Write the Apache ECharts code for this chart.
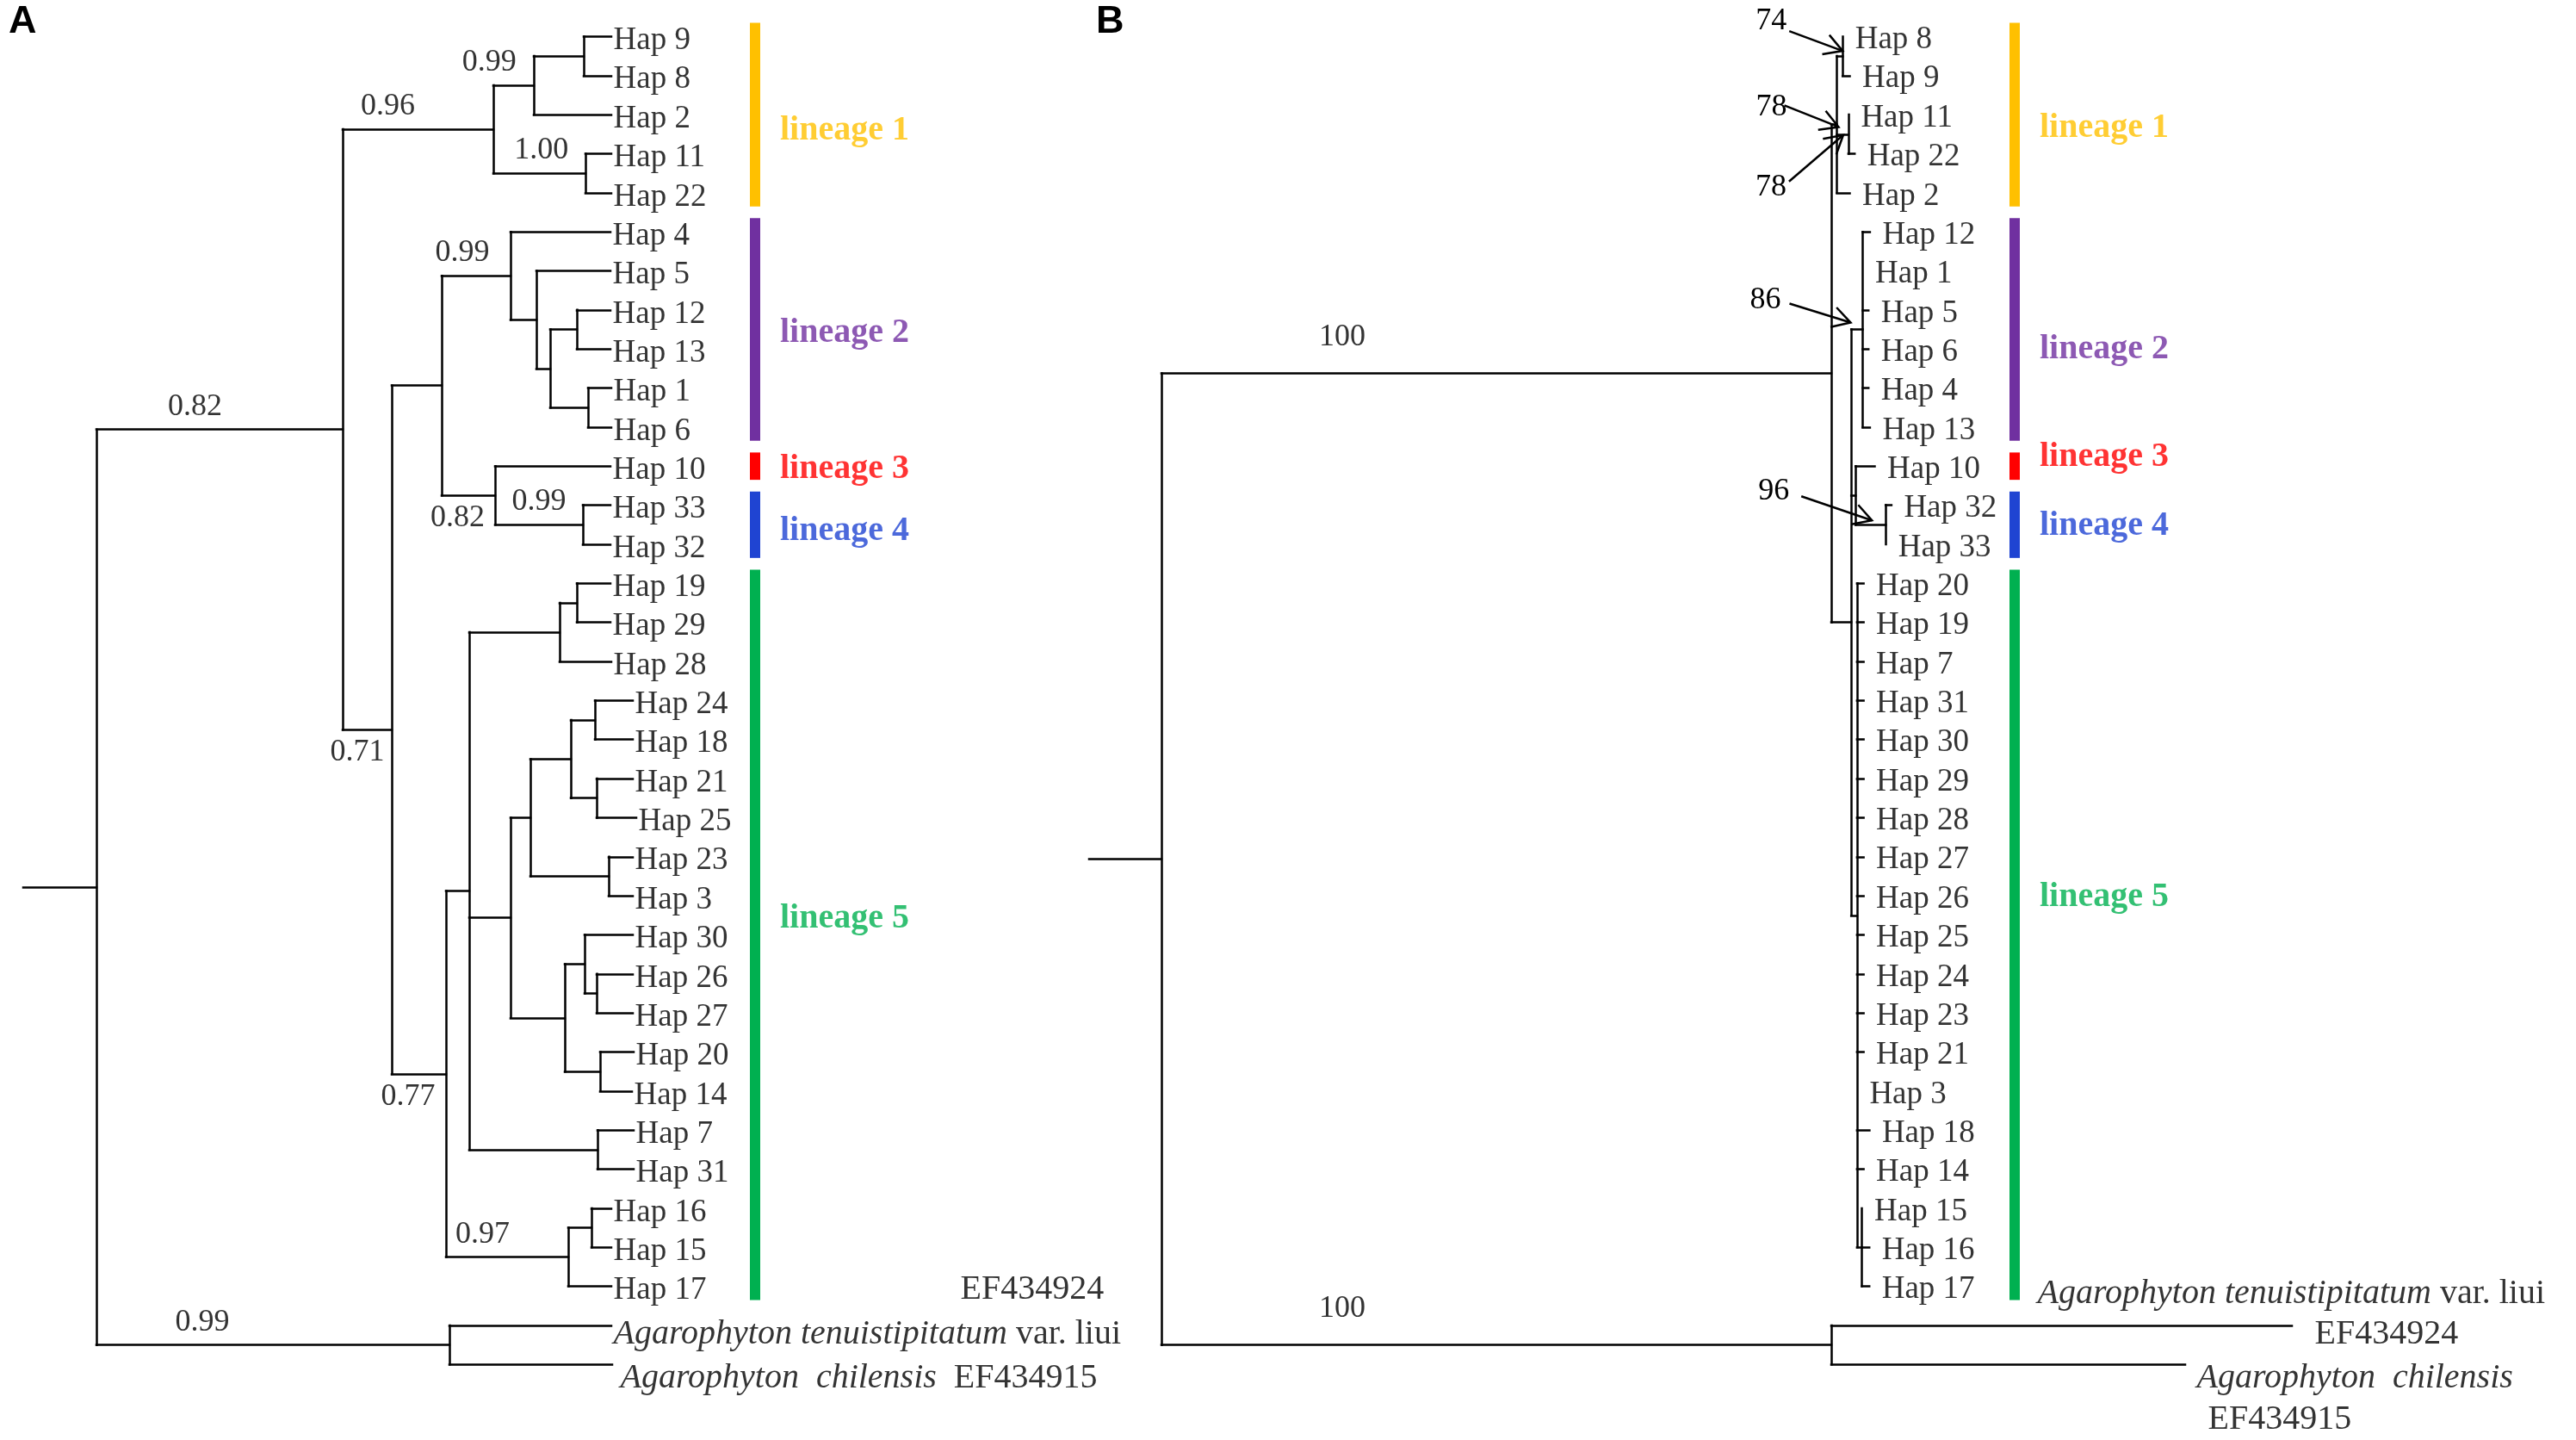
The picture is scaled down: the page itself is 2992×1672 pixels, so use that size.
<!DOCTYPE html>
<html>
<head>
<meta charset="utf-8">
<script src="https://cdn.jsdelivr.net/npm/echarts@6/dist/echarts.min.js"></script>
<style>
  html, body { margin: 0; padding: 0; background: #fff; }
  #chart { width: 2992px; height: 1672px; }
</style>
</head>
<body>
<div id="chart"></div>
<script>
// ---- data -------------------------------------------------------------
// each row: [node, parent, branch length, support]; children keep table order

// A: Bayesian tree, posterior probabilities
const treeA = [
  ['rootA', '', 0.085, ''],
  ['A_ing', 'rootA', 0.286, '0.82'],
  ['A_l1', 'A_ing', 0.175, '0.96'],
  ['A_n98', 'A_l1', 0.047, '0.99'],
  ['A_n9_8', 'A_n98', 0.058, ''],
  ['Hap 9', 'A_n9_8', 0.032, ''],
  ['Hap 8', 'A_n9_8', 0.032, ''],
  ['Hap 2', 'A_n98', 0.090, ''],
  ['A_n11_22', 'A_l1', 0.107, '1.00'],
  ['Hap 11', 'A_n11_22', 0.030, ''],
  ['Hap 22', 'A_n11_22', 0.030, ''],
  ['A_x', 'A_ing', 0.057, '0.71'],
  ['A_l234', 'A_x', 0.058, ''],
  ['A_l2', 'A_l234', 0.080, '0.99'],
  ['Hap 4', 'A_l2', 0.116, ''],
  ['A_n5', 'A_l2', 0.030, ''],
  ['Hap 5', 'A_n5', 0.086, ''],
  ['A_n12_1', 'A_n5', 0.016, ''],
  ['A_n12_13', 'A_n12_1', 0.031, ''],
  ['Hap 12', 'A_n12_13', 0.039, ''],
  ['Hap 13', 'A_n12_13', 0.039, ''],
  ['A_n1_6', 'A_n12_1', 0.044, ''],
  ['Hap 1', 'A_n1_6', 0.027, ''],
  ['Hap 6', 'A_n1_6', 0.027, ''],
  ['A_l34', 'A_l234', 0.062, '0.82'],
  ['Hap 10', 'A_l34', 0.134, ''],
  ['A_l4', 'A_l34', 0.102, '0.99'],
  ['Hap 33', 'A_l4', 0.032, ''],
  ['Hap 32', 'A_l4', 0.032, ''],
  ['A_l5', 'A_x', 0.063, '0.77'],
  ['A_na', 'A_l5', 0.027, ''],
  ['A_c1', 'A_na', 0.105, ''],
  ['A_n19_29', 'A_c1', 0.020, ''],
  ['Hap 19', 'A_n19_29', 0.039, ''],
  ['Hap 29', 'A_n19_29', 0.039, ''],
  ['Hap 28', 'A_c1', 0.060, ''],
  ['A_nb', 'A_na', 0.048, ''],
  ['A_nd', 'A_nb', 0.023, ''],
  ['A_nf', 'A_nd', 0.047, ''],
  ['A_n24_18', 'A_nf', 0.028, ''],
  ['Hap 24', 'A_n24_18', 0.044, ''],
  ['Hap 18', 'A_n24_18', 0.044, ''],
  ['A_n21_25', 'A_nf', 0.030, ''],
  ['Hap 21', 'A_n21_25', 0.042, ''],
  ['Hap 25', 'A_n21_25', 0.046, ''],
  ['A_n23_3', 'A_nd', 0.091, ''],
  ['Hap 23', 'A_n23_3', 0.028, ''],
  ['Hap 3', 'A_n23_3', 0.028, ''],
  ['A_ne', 'A_nb', 0.063, ''],
  ['A_ng', 'A_ne', 0.023, ''],
  ['Hap 30', 'A_ng', 0.056, ''],
  ['A_n26_27', 'A_ng', 0.014, ''],
  ['Hap 26', 'A_n26_27', 0.042, ''],
  ['Hap 27', 'A_n26_27', 0.042, ''],
  ['A_n20_14', 'A_ne', 0.041, ''],
  ['Hap 20', 'A_n20_14', 0.039, ''],
  ['Hap 14', 'A_n20_14', 0.037, ''],
  ['A_n7_31', 'A_na', 0.149, ''],
  ['Hap 7', 'A_n7_31', 0.042, ''],
  ['Hap 31', 'A_n7_31', 0.042, ''],
  ['A_n16_17', 'A_l5', 0.142, '0.97'],
  ['A_n16_15', 'A_n16_17', 0.027, ''],
  ['Hap 16', 'A_n16_15', 0.023, ''],
  ['Hap 15', 'A_n16_15', 0.023, ''],
  ['Hap 17', 'A_n16_17', 0.050, ''],
  ['A_out', 'rootA', 0.410, '0.99'],
  ['Agarophyton tenuistipitatum var. liui', 'A_out', 0.188, ''],
  ['Agarophyton chilensis', 'A_out', 0.189, '']
];

// B: ML tree, bootstrap values
const treeB = [
  ['rootB', '', 0.084, ''],
  ['B_ing', 'rootB', 0.778, '100'],
  ['B_l1', 'B_ing', 0.0065, '78'],
  ['B_n8_9', 'B_l1', 0.0067, '74'],
  ['Hap 8', 'B_n8_9', 0, ''],
  ['Hap 9', 'B_n8_9', 0.0083, ''],
  ['B_n11_22', 'B_l1', 0.0134, '78'],
  ['Hap 11', 'B_n11_22', 0, ''],
  ['Hap 22', 'B_n11_22', 0.0073, ''],
  ['Hap 2', 'B_l1', 0.015, ''],
  ['B_m', 'B_ing', 0.0232, ''],
  ['B_l2', 'B_m', 0.0133, '86'],
  ['Hap 12', 'B_l2', 0.0084, ''],
  ['Hap 1', 'B_l2', 0, ''],
  ['Hap 5', 'B_l2', 0.0067, ''],
  ['Hap 6', 'B_l2', 0.0067, ''],
  ['Hap 4', 'B_l2', 0.0067, ''],
  ['Hap 13', 'B_l2', 0.0084, ''],
  ['B_l34', 'B_m', 0.005, ''],
  ['Hap 10', 'B_l34', 0.0223, ''],
  ['B_l4', 'B_l34', 0.035, '96'],
  ['Hap 32', 'B_l4', 0.0067, ''],
  ['Hap 33', 'B_l4', 0, ''],
  ['B_l5', 'B_m', 0.0067, ''],
  ['Hap 20', 'B_l5', 0.0077, ''],
  ['Hap 19', 'B_l5', 0.0077, ''],
  ['Hap 7', 'B_l5', 0.0077, ''],
  ['Hap 31', 'B_l5', 0.0077, ''],
  ['Hap 30', 'B_l5', 0.0077, ''],
  ['Hap 29', 'B_l5', 0.0077, ''],
  ['Hap 28', 'B_l5', 0.0077, ''],
  ['Hap 27', 'B_l5', 0.0077, ''],
  ['Hap 26', 'B_l5', 0.0077, ''],
  ['Hap 25', 'B_l5', 0.0077, ''],
  ['Hap 24', 'B_l5', 0.0077, ''],
  ['Hap 23', 'B_l5', 0.0077, ''],
  ['Hap 21', 'B_l5', 0.0077, ''],
  ['Hap 3', 'B_l5', 0, ''],
  ['Hap 18', 'B_l5', 0.0145, ''],
  ['Hap 14', 'B_l5', 0.0077, ''],
  ['B_n15_17', 'B_l5', 0.0057, ''],
  ['Hap 15', 'B_n15_17', 0, ''],
  ['Hap 16', 'B_n15_17', 0.0086, ''],
  ['Hap 17', 'B_n15_17', 0.0086, ''],
  ['B_out', 'rootB', 0.778, '100'],
  ['Agarophyton tenuistipitatum var. liui', 'B_out', 0.535, ''],
  ['Agarophyton chilensis', 'B_out', 0.411, '']
];

const lineageNames = ['lineage 1', 'lineage 2', 'lineage 3', 'lineage 4', 'lineage 5'];
// first and last haplotype covered by each lineage bar
const lineageSpanA = [['Hap 9', 'Hap 22'], ['Hap 4', 'Hap 6'], ['Hap 10', 'Hap 10'], ['Hap 33', 'Hap 32'], ['Hap 19', 'Hap 17']];
const lineageSpanB = [['Hap 8', 'Hap 2'], ['Hap 12', 'Hap 13'], ['Hap 10', 'Hap 10'], ['Hap 32', 'Hap 33'], ['Hap 20', 'Hap 17']];
const outgroupTaxa = ['Agarophyton tenuistipitatum var. liui', 'Agarophyton chilensis'];
const outgroupAccessions = ['EF434924', 'EF434915'];

// ---- styles -------------------------------------------------------------
const SERIF = 'Liberation Serif';
const lineageColors = ['#FFC000', '#7030A0', '#FF0000', '#1F44D2', '#00B050'];
const panelStyle = [
  { letter: 'A', left: 27, letterLeft: 10, barX: 0.8495, tipGap: 2, tipDy: 5, supFrac: 0.3, supDist: 8,
    below: ['A_x', 'A_l34', 'A_l5'], fracAt: { A_ing: 0.4, A_n11_22: 0.52, A_l4: 0.5, A_n98: -0.1 },
    lineageDy: [19, 4, 3, 7, -19] },
  { letter: 'B', left: 1265, letterLeft: 1273, barX: 1.0745, tipGap: 14, tipDy: 4, supFrac: 0.27, supDist: 24,
    below: [], fracAt: {}, lineageDy: [16, 23, -11, 1, -44] }
];
// caption placement of the outgroup taxa (pixel offsets from branch tip)
const outgroupLayout = [
  [{ name: [2, 11], acc: [405, -41] }, { name: [9, 16], acc: null }],
  [{ name: [-296, -36], acc: [26, 11] }, { name: [13, 16], acc: [26, 64] }]
];
// bootstrap labels in B that point at their node with an arrow
const arrowLayoutB = {
  B_n8_9:   { text: [-83, -41], from: [-62, -29], to: [0, -6] },
  B_l1:     { text: [-76, -20], from: [-61, -22], to: [2, 3] },
  B_n11_22: { text: [-90, 62],  from: [-69, 55],  to: [-6, 1] },
  B_l2:     { text: [-113, -34], from: [-85, -30], to: [-14, -8] },
  B_l4:     { text: [-130, -39], from: [-98, -33], to: [-16, -5] }
};

// ---- layout -------------------------------------------------------------
function layoutTree(table) {
  const byId = {};
  const nodes = [];
  table.forEach(([id, parent, len, support]) => {
    const n = { id, parent, len, support, children: [] };
    byId[id] = n;
    nodes.push(n);
    if (parent) byId[parent].children.push(n);
  });
  let row = 0;
  (function place(n, x0) {
    n.x0 = x0;
    n.x = x0 + n.len;
    if (!n.children.length) { n.y = row++; return; }
    n.children.forEach(c => place(c, n.x));
    n.y = (n.children[0].y + n.children[n.children.length - 1].y) / 2;
  })(nodes[0], 0);
  return { nodes, byId };
}

function taxonRich(name, acc) {
  const parts = name.split(' var. ');
  let s = '{i|' + parts[0].replace(' ', parts[1] ? ' ' : '  ') + '}';
  if (parts[1]) s += ' var. ' + parts[1];
  if (acc) s += '  ' + acc;
  return s;
}

const chart = echarts.init(document.getElementById('chart'));
const series = [];

[treeA, treeB].forEach((tree, k) => {
  const st = panelStyle[k];
  const { nodes, byId } = layoutTree(tree);
  const spans = k === 0 ? lineageSpanA : lineageSpanB;

  // branches
  const segs = [];
  nodes.forEach(n => {
    if (n.len > 0) segs.push({ coords: [[n.x0, n.y], [n.x, n.y]] });
    if (n.children.length > 1) {
      segs.push({ coords: [[n.x, n.children[0].y], [n.x, n.children[n.children.length - 1].y]] });
    }
  });
  series.push({
    type: 'lines', coordinateSystem: 'cartesian2d', xAxisIndex: k, yAxisIndex: k,
    silent: true, data: segs,
    lineStyle: { color: '#000', width: 2.5, opacity: 1, curveness: 0, cap: 'square' }
  });

  // haplotype labels
  const tips = nodes.filter(n => !n.children.length && n.id.startsWith('Hap'));
  series.push({
    type: 'scatter', xAxisIndex: k, yAxisIndex: k, silent: true, symbolSize: 1,
    itemStyle: { color: 'rgba(0,0,0,0)' },
    data: tips.map(n => ({ name: n.id, value: [n.x, n.y] })),
    label: {
      show: true, position: 'right', distance: st.tipGap, offset: [0, st.tipDy],
      formatter: '{b}', color: '#000', fontFamily: SERIF, fontSize: 37
    }
  });

  // outgroup captions
  const ogData = [];
  outgroupTaxa.forEach((name, j) => {
    const n = byId[name];
    const lay = outgroupLayout[k][j];
    ogData.push({
      name: taxonRich(name, lay.acc ? '' : outgroupAccessions[j]), value: [n.x, n.y],
      label: { offset: lay.name }
    });
    if (lay.acc) {
      ogData.push({ name: outgroupAccessions[j], value: [n.x, n.y], label: { offset: lay.acc } });
    }
  });
  series.push({
    type: 'scatter', xAxisIndex: k, yAxisIndex: k, silent: true, symbolSize: 1,
    itemStyle: { color: 'rgba(0,0,0,0)' },
    data: ogData,
    label: {
      show: true, position: 'right', distance: 0, formatter: '{b}',
      color: '#000', fontFamily: SERIF, fontSize: 40,
      rich: { i: { fontStyle: 'italic', fontFamily: SERIF, fontSize: 40, color: '#000' } }
    }
  });

  // support values written on the branch
  const sup = nodes.filter(n => n.support && !(k === 1 && arrowLayoutB[n.id]));
  series.push({
    type: 'scatter', xAxisIndex: k, yAxisIndex: k, silent: true, symbolSize: 1,
    itemStyle: { color: 'rgba(0,0,0,0)' },
    data: sup.map(n => {
      const f = n.id in st.fracAt ? st.fracAt[n.id] : st.supFrac;
      return {
        name: n.support,
        value: [n.x0 + f * (n.x - n.x0), n.y],
        label: { position: st.below.includes(n.id) ? 'bottom' : 'top' }
      };
    }),
    label: {
      show: true, distance: st.supDist, formatter: '{b}',
      color: '#000', fontFamily: SERIF, fontSize: 36
    }
  });

  // support values with arrows (panel B)
  if (k === 1) {
    const arrowNodes = nodes.filter(n => n.support && arrowLayoutB[n.id]);
    series.push({
      type: 'custom', coordinateSystem: 'cartesian2d', xAxisIndex: k, yAxisIndex: k, silent: true,
      data: arrowNodes.map(n => [n.x, n.y]),
      renderItem: (params, api) => {
        const n = arrowNodes[params.dataIndex];
        const L = arrowLayoutB[n.id];
        const p = api.coord([api.value(0), api.value(1)]);
        const a = [p[0] + L.from[0], p[1] + L.from[1]];
        const b = [p[0] + L.to[0], p[1] + L.to[1]];
        const ang = Math.atan2(b[1] - a[1], b[0] - a[0]);
        const arm = s => [b[0] - 24 * Math.cos(ang + s), b[1] - 24 * Math.sin(ang + s)];
        return {
          type: 'group',
          children: [
            { type: 'text', style: {
                text: n.support, x: p[0] + L.text[0], y: p[1] + L.text[1],
                align: 'center', verticalAlign: 'middle',
                fontFamily: SERIF, fontSize: 36, fill: '#000' } },
            { type: 'line', shape: { x1: a[0], y1: a[1], x2: b[0], y2: b[1] },
              style: { stroke: '#000', lineWidth: 2.5 } },
            { type: 'polyline', shape: { points: [arm(0.52), b, arm(-0.52)] },
              style: { stroke: '#000', lineWidth: 2.5, fill: null } }
          ]
        };
      }
    });
  }

  // lineage bars and names
  const pad = 0.35;
  series.push({
    type: 'lines', coordinateSystem: 'cartesian2d', xAxisIndex: k, yAxisIndex: k, silent: true,
    data: spans.map((s, j) => ({
      coords: [[st.barX, byId[s[0]].y - pad], [st.barX, byId[s[1]].y + pad]],
      lineStyle: { color: lineageColors[j] }
    })),
    lineStyle: { width: 12, opacity: 1, curveness: 0, cap: 'butt' }
  });
  series.push({
    type: 'scatter', xAxisIndex: k, yAxisIndex: k, silent: true, symbolSize: 1,
    itemStyle: { color: 'rgba(0,0,0,0)' },
    data: spans.map((s, j) => ({
      name: lineageNames[j],
      value: [st.barX, (byId[s[0]].y + byId[s[1]].y) / 2],
      label: { color: lineageColors[j], offset: [0, st.lineageDy[j]] }
    })),
    label: {
      show: true, position: 'right', distance: 29, formatter: '{b}',
      fontFamily: SERIF, fontSize: 40, fontWeight: 'bold'
    }
  });
});

const option = {
  backgroundColor: '#fff',
  animation: false,
  title: panelStyle.map(st => ({
    text: st.letter, left: st.letterLeft, top: 3, padding: 0,
    textStyle: { fontFamily: 'Liberation Sans', fontWeight: 'bold', fontSize: 45, color: '#000' }
  })),
  grid: panelStyle.map(st => ({ left: st.left, top: 1.6, width: 1500, height: 1673.4, outerBoundsMode: 'none' })),
  xAxis: panelStyle.map((st, k) => ({ gridIndex: k, type: 'value', min: 0, max: 1.5, show: false })),
  yAxis: panelStyle.map((st, k) => ({ gridIndex: k, type: 'value', min: -0.9, max: 36, inverse: true, show: false })),
  series
};
chart.setOption(option);
</script>
</body>
</html>
